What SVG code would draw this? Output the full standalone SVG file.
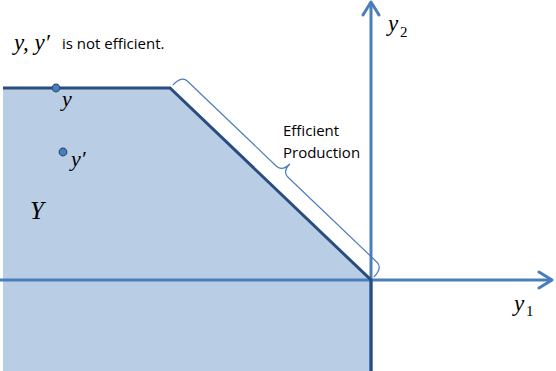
<svg xmlns="http://www.w3.org/2000/svg" width="556" height="371" viewBox="0 0 556 371">
<style>
.axis{stroke:#4A7EBB;stroke-width:3;fill:none}
.outline{stroke:#2A4D80;stroke-width:3;fill:none;stroke-linejoin:miter}
.region{fill:#B9CDE5;stroke:none}
.brace{stroke:#4A7EBB;stroke-width:1.2;fill:none}
.pt{fill:#4A7EBB;stroke:#2A4D80;stroke-width:1.2}
.math{font-family:"Liberation Serif",serif;font-style:italic;fill:#000}
.sub{font-family:"Liberation Serif",serif;fill:#000}
.lbl{font-family:"Open Sans","Liberation Sans",sans-serif;fill:#000}
</style>
<defs>
<marker id="arr" markerUnits="userSpaceOnUse" markerWidth="20" markerHeight="20" refX="0" refY="0" viewBox="-16 -10 20 20" orient="auto">
<path d="M-13,-8 L0,0 L-13,8" stroke="#4A7EBB" stroke-width="3" fill="none" stroke-linecap="round" stroke-linejoin="round"/>
</marker>
</defs>
<g id="region">
<path class="region" d="M3,88 L170,88 L371,280 L371,371 L3,371 Z"/>
</g>
<g id="connectors">
<line class="axis" x1="0" y1="280" x2="552" y2="280" marker-end="url(#arr)"/>
<line class="axis" x1="371" y1="371" x2="371" y2="2" marker-end="url(#arr)"/>
</g>
<g id="frontier">
<path class="outline" d="M3,88 L170,88 L371,280 L371,371"/>
</g>
<g id="brace">
<path class="brace" transform="translate(170,88) rotate(43.69)" d="M0,-4 Q0,-17 8,-17 L131,-17 Q139,-17 139,-28 Q139,-17 147,-17 L270,-17 Q278,-17 278,-4"/>
<text class="lbl" x="283" y="136" font-size="15">Efficient</text>
<text class="lbl" x="283" y="158" font-size="15">Production</text>
</g>
<g id="point-y">
<circle class="pt" cx="56" cy="88" r="3.8"/>
<text class="math" x="62" y="106" font-size="22">y</text>
</g>
<g id="point-yprime">
<circle class="pt" cx="63" cy="152" r="3.8"/>
<text class="math" x="71" y="166" font-size="22">y′</text>
</g>
<g id="set-Y">
<text class="math" x="30" y="219" font-size="25">Y</text>
</g>
<g id="title">
<text class="math" x="14" y="50" font-size="23">y, y′</text>
<text class="lbl" x="62" y="49" font-size="15">is not efficient.</text>
</g>
<g id="y2">
<text class="math" x="388" y="31" font-size="23">y</text>
<text class="sub" x="400" y="37" font-size="15">2</text>
</g>
<g id="y1">
<text class="math" x="514" y="311" font-size="23">y</text>
<text class="sub" x="526" y="316" font-size="15">1</text>
</g>
</svg>
